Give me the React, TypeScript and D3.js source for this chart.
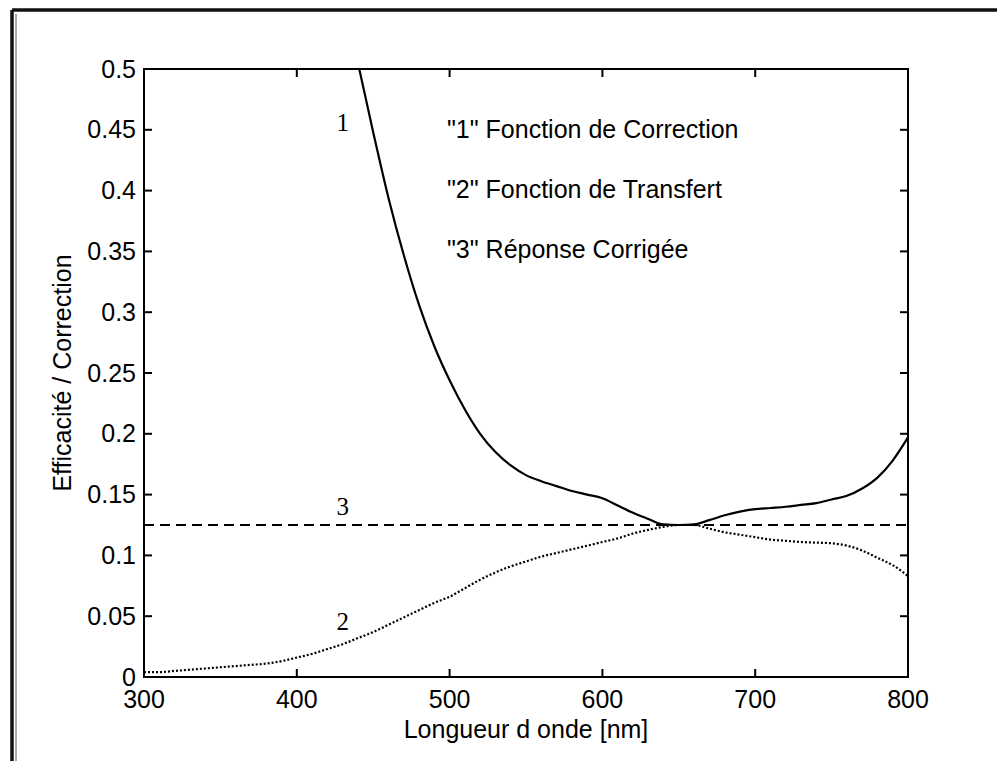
import React from "react";
import * as d3 from "d3";

const W = 997;
const H = 761;

const xTicks = [300, 400, 500, 600, 700, 800];
const yTicks = [0, 0.05, 0.1, 0.15, 0.2, 0.25, 0.3, 0.35, 0.4, 0.45, 0.5];
const yTickLabels = ["0", "0.05", "0.1", "0.15", "0.2", "0.25", "0.3", "0.35", "0.4", "0.45", "0.5"];

// Curve 1: Fonction de Correction
const corrWl = [440, 450, 460, 470, 480, 490, 500, 510, 520, 530, 540, 550, 560, 570, 580, 590, 600, 610, 620, 630, 640, 650, 660, 670, 680, 690, 700, 710, 720, 730, 740, 750, 760, 770, 780, 790, 800];
const corrVal = [0.505, 0.448, 0.394, 0.347, 0.306, 0.272, 0.244, 0.22, 0.2, 0.185, 0.174, 0.166, 0.161, 0.157, 0.153, 0.15, 0.147, 0.141, 0.135, 0.13, 0.1255, 0.125, 0.1255, 0.129, 0.133, 0.136, 0.138, 0.139, 0.14, 0.1415, 0.143, 0.146, 0.149, 0.155, 0.164, 0.178, 0.197];

// Curve 2: Fonction de Transfert
const transWl = [300, 310, 320, 330, 340, 350, 360, 370, 380, 390, 400, 410, 420, 430, 440, 450, 460, 470, 480, 490, 500, 510, 520, 530, 540, 550, 560, 570, 580, 590, 600, 610, 620, 630, 640, 650, 660, 670, 680, 690, 700, 710, 720, 730, 740, 750, 760, 770, 780, 790, 800];
const transVal = [0.004, 0.004, 0.005, 0.006, 0.007, 0.008, 0.009, 0.01, 0.011, 0.013, 0.016, 0.019, 0.023, 0.027, 0.032, 0.037, 0.043, 0.049, 0.055, 0.061, 0.066, 0.073, 0.08, 0.086, 0.091, 0.095, 0.099, 0.102, 0.105, 0.108, 0.111, 0.114, 0.118, 0.121, 0.1235, 0.125, 0.125, 0.122, 0.119, 0.117, 0.115, 0.113, 0.112, 0.111, 0.1105, 0.11, 0.108, 0.104, 0.098, 0.092, 0.083];

// Curve 3: Réponse Corrigée
const corrigWl = [300, 800];
const corrigVal = [0.125, 0.125];

const legendLines = ['"1" Fonction de Correction', '"2" Fonction de Transfert', '"3" Réponse Corrigée'];
const curveLabels = [
  { text: "1", wl: 430, v: 0.449 },
  { text: "3", wl: 430, v: 0.133 },
  { text: "2", wl: 430, v: 0.0385 },
];

const x = d3.scaleLinear().domain([300, 800]).range([144, 908]);
const y = d3.scaleLinear().domain([0, 0.5]).range([677, 69]);

const line = d3
  .line<[number, number]>()
  .x((d) => x(d[0]))
  .y((d) => y(d[1]))
  .curve(d3.curveMonotoneX);

const zip = (a: number[], b: number[]): [number, number][] => a.map((v, i) => [v, b[i]]);

const font = "'Liberation Sans', Arial, sans-serif";
const serif = "'Liberation Serif', 'Times New Roman', serif";

export default function App() {
  const [x0, x1] = x.range();
  const [y0, y1] = y.range();
  const tick = 8;
  return (
    <svg
      width={W}
      height={H}
      style={{ position: "absolute", left: 0, top: 0, background: "#fff" }}
    >
      <defs>
        <clipPath id="plot">
          <rect x={x0} y={y1} width={x1 - x0} height={y0 - y1} />
        </clipPath>
      </defs>
      {/* outer frame */}
      <line x1={12} y1={10} x2={W} y2={10} stroke="#111" strokeWidth={3.5} />
      <line x1={12} y1={10} x2={12} y2={H} stroke="#111" strokeWidth={3.5} />
      <line x1={16} y1={14} x2={16} y2={H} stroke="#555" strokeWidth={1} />

      {/* curves */}
      <g clipPath="url(#plot)" fill="none" stroke="#000">
        <path d={line(zip(corrWl, corrVal)) || ""} strokeWidth={2.2} />
        <path d={line(zip(transWl, transVal)) || ""} strokeWidth={2.2} strokeDasharray="2 2" />
        <path d={line(zip(corrigWl, corrigVal)) || ""} strokeWidth={1.8} strokeDasharray="10 6" />
      </g>

      {/* axes box */}
      <rect x={x0} y={y1} width={x1 - x0} height={y0 - y1} fill="none" stroke="#000" strokeWidth={2} />
      {xTicks.map((t) => (
        <g key={"xt" + t}>
          <line x1={x(t)} x2={x(t)} y1={y0} y2={y0 - tick} stroke="#000" strokeWidth={2} />
          <line x1={x(t)} x2={x(t)} y1={y1} y2={y1 + tick} stroke="#000" strokeWidth={2} />
          <text x={x(t)} y={708} textAnchor="middle" fontFamily={font} fontSize={25} fill="#000">
            {t}
          </text>
        </g>
      ))}
      {yTicks.map((t, i) => (
        <g key={"yt" + t}>
          <line x1={x0} x2={x0 + tick} y1={y(t)} y2={y(t)} stroke="#000" strokeWidth={2} />
          <line x1={x1} x2={x1 - tick} y1={y(t)} y2={y(t)} stroke="#000" strokeWidth={2} />
          <text x={136} y={y(t)} dy="0.34em" textAnchor="end" fontFamily={font} fontSize={25} fill="#000">
            {yTickLabels[i]}
          </text>
        </g>
      ))}

      {/* axis titles */}
      <text x={(x0 + x1) / 2} y={738} textAnchor="middle" fontFamily={font} fontSize={25} fill="#000">
        Longueur d onde [nm]
      </text>
      <text
        transform={`translate(71, ${(y0 + y1) / 2}) rotate(-90)`}
        textAnchor="middle"
        fontFamily={font}
        fontSize={25}
        fill="#000"
      >
        Efficacité / Correction
      </text>

      {/* legend text */}
      {legendLines.map((s, i) => (
        <text key={s} x={447} y={138 + i * 60} fontFamily={font} fontSize={25} fill="#000">
          {s}
        </text>
      ))}

      {/* curve labels */}
      {curveLabels.map((c) => (
        <text key={c.text} x={x(c.wl)} y={y(c.v)} textAnchor="middle" fontFamily={serif} fontSize={25} fill="#000">
          {c.text}
        </text>
      ))}
    </svg>
  );
}
